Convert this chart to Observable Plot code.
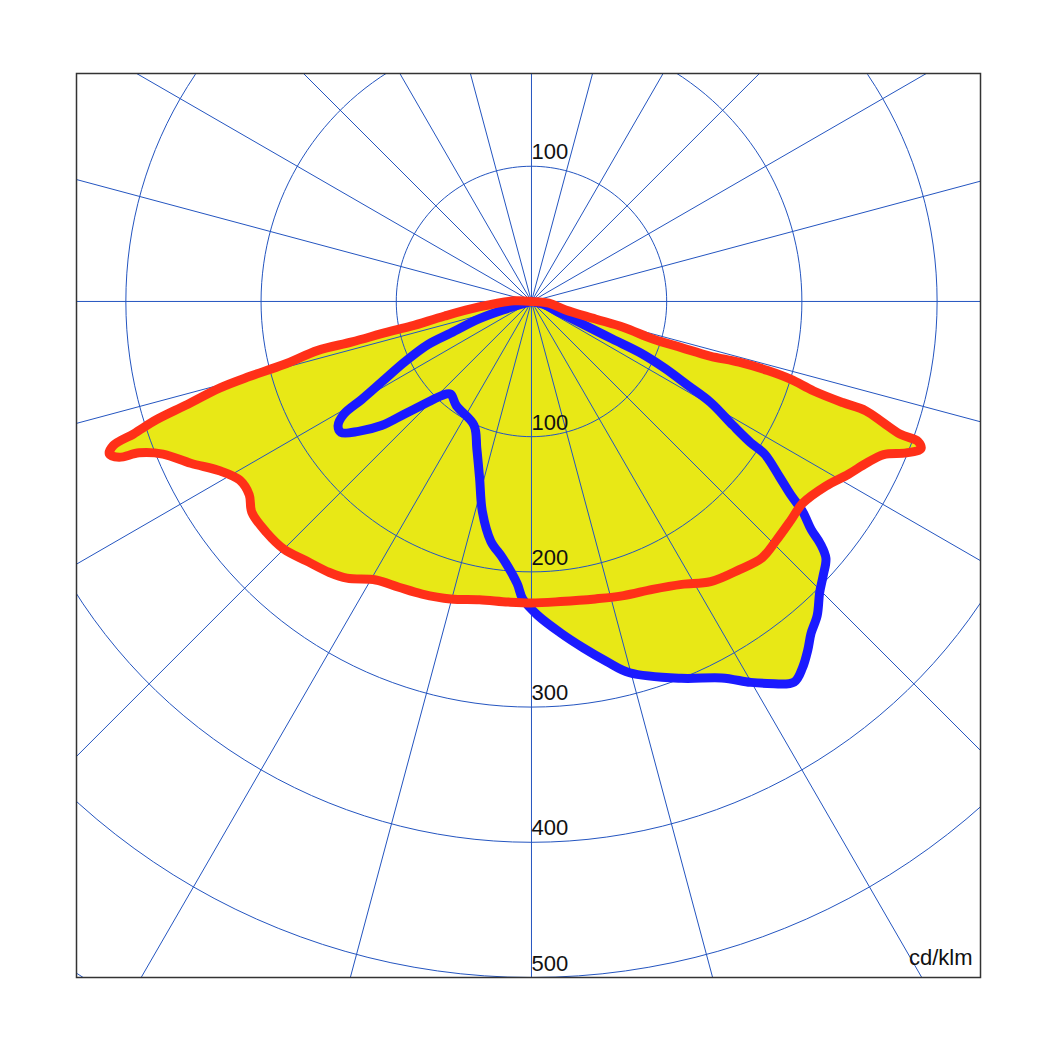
<!DOCTYPE html>
<html><head><meta charset="utf-8">
<script src="https://cdn.jsdelivr.net/npm/d3@7"></script>
<script src="https://cdn.jsdelivr.net/npm/@observablehq/plot@0.6"></script>
<style>html,body{margin:0;padding:0;background:#fff;}#chart{width:1054px;height:1054px;}</style>
</head><body><div id="chart"></div>
<script>
// Gamma angle in degrees from nadir (negative = left, positive = right), intensity in cd/klm
const redGamma = [-90, -92, -84, -80.5, -78.4, -78, -77.3, -77.1, -75.7, -75.1, -74.5, -73.3, -72.5, -71.6, -71, -70.1, -69.3, -68.9, -67.5, -64.6, -61.4, -58.5, -55.6, -53, -49, -45, -40.9, -36.7, -33.7, -29.2, -24.9, -20.5, -15.2, -9.9, -4.4, 0, 5.5, 12.1, 17.4, 22.8, 28, 32.6, 37.8, 42, 45.7, 49.8, 53.3, 57.9, 61.4, 64.2, 66.5, 68, 69.3, 70.1, 70.2, 71, 71.9, 72, 72.4, 73.3, 73.7, 73.7, 73, 72.9, 72.8, 74.3, 74.7, 76, 84.3, 90];
const redValue = [0, 13, 39, 65, 91, 109, 136, 162, 189, 216, 239, 267, 291, 310, 327, 332, 326, 311, 295, 279, 262, 253, 253, 259, 260, 259, 254, 250, 246, 236, 233, 231, 228, 224, 223, 223, 223, 225, 228, 231, 237, 246, 251, 255, 253, 251, 250, 257, 267, 275, 284, 299, 308, 304, 290, 275, 260, 242, 219, 200, 182, 160, 138, 116, 94, 71, 49, 26, 13, 0];
const blueGamma = [-90, -73.3, -71.6, -68.6, -67.4, -64.5, -61.7, -60, -59, -57.3, -55.5, -53.1, -50.4, -48.4, -45.8, -43.6, -41.2, -35.8, -24.9, -20.4, -16.4, -13.1, -9.6, -6.4, -2.9, -1.7, 1.1, 5, 8.5, 11.8, 14.8, 21.7, 26.8, 29.9, 31.7, 34.6, 36.5, 38.4, 40.1, 42.3, 44.7, 46.8, 48.9, 50, 50.8, 52.2, 53.3, 54.7, 56.8, 57.2, 58.4, 60.6, 61.8, 63.4, 64.7, 65.1, 66, 68.2, 76, 90];
const blueValue = [0, 22, 41, 64, 83, 104, 126, 145, 162, 170, 171, 160, 144, 125, 107, 96, 91, 95, 101, 116, 136, 160, 180, 191, 209, 220, 232, 246, 259, 272, 284, 300, 312, 325, 332, 342, 337, 329, 321, 314, 303, 296, 289, 279, 267, 254, 239, 225, 206, 193, 175, 152, 131, 110, 90, 66, 42, 23, 9, 0];

const ringValues = [100, 200, 300, 400, 500, 600];
const rayAngles = d3.range(0, 360, 15);
const labelText = ["100", "100", "200", "300", "400", "500"];
const labelValue = [100, 100, 200, 300, 400, 500];
const labelGamma = [180, 0, 0, 0, 0, 0];
const unitLabel = "cd/klm";

const rad = Math.PI / 180;
const polar = (g, v) => ({x: v * Math.sin(g * rad), y: -v * Math.cos(g * rad)});

const redPts = redGamma.map((g, i) => polar(g, redValue[i]));
const bluePts = blueGamma.map((g, i) => polar(g, blueValue[i]));
const ringPts = ringValues.flatMap(r => d3.range(0, 361, 2).map(a => ({r, ...polar(a, r)})));
const rays = rayAngles.map(a => {
  const p = polar(a, 1200);
  return {x1: 0, y1: 0, x2: p.x, y2: p.y};
});
const labels = labelText.map((t, i) => ({t, ...polar(labelGamma[i], labelValue[i])}));

const gridColor = "#2455c0";
const fillColor = "#e8e816";

const chart = Plot.plot({
  width: 1054, height: 1054,
  marginLeft: 76, marginRight: 74, marginTop: 73, marginBottom: 77,
  x: {domain: [-336.5, 332.1], axis: null},
  y: {domain: [-500, 168.6], axis: null},
  style: {fontFamily: "'Liberation Sans', Arial, sans-serif", background: "white"},
  marks: [
    Plot.line(redPts, {x: "x", y: "y", fill: fillColor, stroke: "none", curve: "catmull-rom"}),
    Plot.line(bluePts, {x: "x", y: "y", fill: fillColor, stroke: "none", curve: "catmull-rom"}),
    Plot.line(ringPts, {x: "x", y: "y", z: "r", stroke: gridColor, strokeWidth: 1, clip: true}),
    Plot.link(rays, {x1: "x1", y1: "y1", x2: "x2", y2: "y2", stroke: gridColor, strokeWidth: 1, clip: true}),
    Plot.line(bluePts, {x: "x", y: "y", stroke: "#1a1aff", strokeWidth: 9, strokeLinejoin: "round", strokeLinecap: "round", curve: "catmull-rom"}),
    Plot.line(redPts, {x: "x", y: "y", stroke: "#ff3018", strokeWidth: 9, strokeLinejoin: "round", strokeLinecap: "round", curve: "catmull-rom"}),
    Plot.text(labels, {x: "x", y: "y", text: "t", textAnchor: "start", lineAnchor: "bottom", dx: 0, dy: -7, fontSize: 22, fill: "#111"}),
    Plot.text([unitLabel], {text: d => d, frameAnchor: "bottom-right", textAnchor: "end", lineAnchor: "bottom", dx: -8, dy: -13, fontSize: 22, fill: "#111"}),
    Plot.frame({stroke: "#333", strokeWidth: 1.5})
  ]
});
document.getElementById("chart").appendChild(chart);
</script>
</body></html>
